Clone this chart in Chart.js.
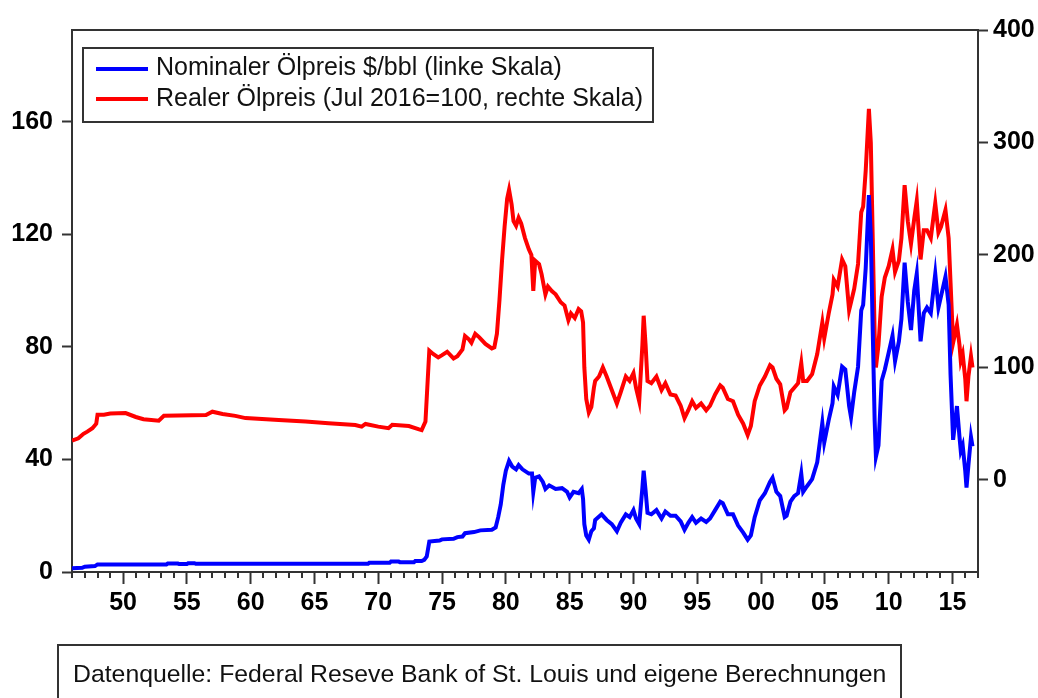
<!DOCTYPE html>
<html>
<head>
<meta charset="utf-8">
<script src="https://cdn.jsdelivr.net/npm/chart.js@4"></script>
<style>
  html, body { margin: 0; padding: 0; background: #fff; }
  #wrap { width: 1038px; height: 698px; }
</style>
</head>
<body>
<div id="wrap"><canvas id="chart"></canvas></div>
<script>
// Nominal oil price, $/bbl (left scale)
const nominalYears = [1946.0,1946.8,1947.0,1947.8,1948.0,1953.4,1953.5,1954.3,1954.4,1955.0,1955.1,1955.6,1955.7,1969.2,1969.3,1970.9,1971.0,1971.6,1971.7,1972.8,1972.9,1973.4,1973.6,1973.8,
  1974.0,1974.8,1975.0,1975.9,1976.2,1976.6,1976.8,1977.5,1978.0,1978.9,1979.2,1979.4,1979.6,1979.8,1980.0,1980.25,1980.5,1980.8,1981.0,1981.3,1981.8,1982.05,1982.15,1982.3,1982.6,1982.9,
  1983.1,1983.4,1983.9,1984.4,1984.8,1985.0,1985.3,1985.7,1985.95,1986.05,1986.15,1986.3,1986.5,1986.7,1986.9,1987.0,1987.5,1987.9,1988.3,1988.7,1989.0,1989.4,1989.7,1990.0,1990.2,1990.45,
  1990.7,1990.8,1990.95,1991.1,1991.4,1991.8,1992.2,1992.5,1992.9,1993.3,1993.7,1994.0,1994.3,1994.6,1994.9,1995.3,1995.7,1996.0,1996.4,1996.8,1997.0,1997.4,1997.8,1998.2,1998.6,1998.95,
  1999.2,1999.5,1999.9,2000.3,2000.7,2000.9,2001.2,2001.5,2001.85,2002.0,2002.3,2002.6,2002.9,2003.15,2003.3,2003.6,2004.0,2004.4,2004.8,2004.95,2005.3,2005.6,2005.7,2006.0,2006.35,2006.6,
  2006.9,2007.05,2007.3,2007.6,2007.85,2008.0,2008.2,2008.45,2008.6,2008.75,2008.9,2009.0,2009.2,2009.45,2009.7,2010.0,2010.3,2010.5,2010.8,2011.0,2011.25,2011.5,2011.75,2012.0,2012.2,2012.5,
  2012.75,2013.0,2013.3,2013.65,2013.9,2014.1,2014.45,2014.7,2014.85,2015.05,2015.35,2015.55,2015.65,2015.8,2016.0,2016.1,2016.25,2016.45,2016.57];
const nominalValues = [1.3,1.5,1.9,2.1,2.7,2.7,3.0,3.0,2.8,2.8,3.1,3.1,2.9,2.9,3.3,3.3,3.7,3.7,3.5,3.5,3.9,3.9,4.3,5.5,
  10.8,11.2,11.6,11.8,12.4,12.6,13.8,14.2,14.8,15.0,15.8,19.5,24,31,36,39.5,37.5,36.5,38,36.5,35,35,28.5,33.5,34,32,
  29.5,30.8,29.5,29.8,28.5,26.5,28.5,28,29.5,26,17,13,11.5,14.5,15.5,18.5,20.5,18.5,17,14.5,17.5,20.5,19.5,22,19,17,
  30,36,29,21,20.5,22,19,21.5,20,20,18,15,17.5,19.5,17.5,19,17.8,19,22,25,24.5,20.5,20.5,16.5,14,11.5,
  13,19.5,25.5,28,32,33.5,28.5,27,19.5,20,25,27,28,35,28.5,30.5,33,39,53,46,54,60,66,63,73,72,
  59,55,64,73,93,95,108,134,120,86,54,41,45,68,72,78,84,75,82,90,110,96,86,100,106,82,
  92,94,92,106,94,98,105,95,70,47,59,48,43,45,36,30,38,48,44.7];

// Real oil price, Jul 2016 = 100 (right scale)
const realYears = [1946.0,1946.5,1946.9,1947.2,1947.6,1947.9,1948.0,1948.5,1949.0,1950.2,1951.0,1951.6,1952.8,1953.2,1956.5,1957.0,1957.8,1958.8,1959.6,1962.2,1964.3,1966.1,1968.2,1968.7,1969.0,1970.0,1970.8,1971.1,1972.4,1973.2,1973.4,1973.7,
  1974.0,1974.3,1974.7,1975.0,1975.4,1975.9,1976.2,1976.6,1976.8,1977.1,1977.3,1977.6,1977.9,1978.4,1978.9,1979.1,1979.3,1979.5,1979.7,1979.9,1980.1,1980.25,1980.45,1980.6,1980.8,1981.0,1981.2,1981.5,1981.8,1982.0,1982.15,1982.3,1982.6,1982.8,
  1983.1,1983.3,1983.6,1983.9,1984.3,1984.6,1984.9,1985.1,1985.4,1985.7,1985.9,1986.05,1986.15,1986.3,1986.5,1986.7,1986.9,1987.0,1987.3,1987.6,1987.9,1988.3,1988.7,1989.0,1989.4,1989.7,1990.0,1990.2,1990.45,1990.7,1990.8,1990.95,
  1991.1,1991.4,1991.8,1992.2,1992.5,1992.9,1993.3,1993.7,1994.0,1994.3,1994.6,1994.9,1995.3,1995.7,1996.0,1996.4,1996.8,1997.0,1997.4,1997.8,1998.2,1998.6,1998.95,1999.2,1999.5,1999.9,2000.3,2000.7,2000.9,2001.2,2001.5,2001.85,
  2002.0,2002.3,2002.6,2002.9,2003.15,2003.3,2003.6,2004.0,2004.4,2004.8,2004.95,2005.3,2005.6,2005.7,2006.0,2006.35,2006.6,2006.9,2007.05,2007.3,2007.6,2007.85,2008.0,2008.2,2008.45,2008.6,2008.75,2008.9,2009.0,2009.2,2009.45,2009.7,
  2010.0,2010.3,2010.5,2010.8,2011.0,2011.25,2011.5,2011.75,2012.0,2012.2,2012.5,2012.75,2013.0,2013.3,2013.65,2013.9,2014.1,2014.45,2014.7,2014.85,2015.05,2015.35,2015.55,2015.65,2015.8,2016.0,2016.1,2016.25,2016.45,2016.57];
const realValues = [35,37,41,43,46,50,58,58,59,59.5,56,54,52.7,57,57.8,60.7,58.7,57,55,53.3,51.9,50.4,48.9,47.4,49.8,47.4,46,49,48,45,44.4,51.9,
  115,112,109,111,114,108,110,116,128,125,122,130,127,121,117,118,130,160,195,225,250,258,245,230,226,233,228,215,205,200,168,195,192,183,
  165,172,168,165,158,155,142,148,144,152,150,140,100,72,60,65,82,88,92,100,92,80,68,78,92,88,95,82,70,120,146,120,
  88,86,92,80,86,76,75,66,55,62,70,64,68,62,66,76,84,82,72,70,58,50,40,48,70,84,92,102,100,90,85,62,
  64,78,82,86,104,88,88,94,112,140,126,148,165,178,172,196,190,151,158,170,192,238,243,275,330,300,215,130,100,120,163,180,
  190,205,185,195,215,262,230,210,232,248,196,222,222,215,246,220,225,240,215,175,122,138,120,106,112,90,70,92,110,100];

const leftTicks = [0, 40, 80, 120, 160];
const rightTicks = [0, 100, 200, 300, 400];
const majorYears = [1950, 1955, 1960, 1965, 1970, 1975, 1980, 1985, 1990, 1995, 2000, 2005, 2010, 2015];
const majorLabels = ["50", "55", "60", "65", "70", "75", "80", "85", "90", "95", "00", "05", "10", "15"];

const axisColor = "#333";
const tickFont = { family: '"Liberation Sans", Arial, sans-serif', size: 25, weight: "bold" };

const toXY = (xs, ys) => xs.map((x, i) => ({ x: x, y: ys[i] }));

// frame, minor year ticks, legend box and source note
const extras = {
  id: "extras",
  afterDraw(chart) {
    const ctx = chart.ctx;
    const a = chart.chartArea;
    const xs = chart.scales.x;
    ctx.save();
    ctx.strokeStyle = axisColor;
    ctx.lineWidth = 2;
    ctx.beginPath();
    ctx.moveTo(a.left, a.top);
    ctx.lineTo(a.right, a.top);
    ctx.stroke();

    for (let yr = Math.ceil(xs.min); yr <= xs.max; yr++) {
      if (yr % 5 === 0) continue;
      const px = Math.round(xs.getPixelForValue(yr));
      ctx.beginPath();
      ctx.moveTo(px, a.bottom);
      ctx.lineTo(px, a.bottom + 6);
      ctx.stroke();
    }

    // legend
    ctx.fillStyle = "#fff";
    ctx.fillRect(83, 48, 570, 74);
    ctx.strokeRect(83, 48, 570, 74);
    ctx.lineWidth = 4;
    ctx.strokeStyle = "#0000ff";
    ctx.beginPath(); ctx.moveTo(96, 69); ctx.lineTo(148, 69); ctx.stroke();
    ctx.strokeStyle = "#ff0000";
    ctx.beginPath(); ctx.moveTo(96, 99); ctx.lineTo(148, 99); ctx.stroke();
    ctx.fillStyle = "#111";
    ctx.font = '25px "Liberation Sans"';
    ctx.textBaseline = "alphabetic";
    ctx.fillText("Nominaler \u00D6lpreis $/bbl (linke Skala)", 156, 75);
    ctx.fillText("Realer \u00D6lpreis (Jul 2016=100, rechte Skala)", 156, 106);

    // source note
    ctx.strokeStyle = axisColor;
    ctx.lineWidth = 2;
    ctx.strokeRect(58, 645, 843, 70);
    ctx.font = '24.8px "Liberation Sans"';
    ctx.fillText("Datenquelle: Federal Reseve Bank of St. Louis und eigene Berechnungen", 73, 682);
    ctx.restore();
  }
};

new Chart(document.getElementById("chart"), {
  type: "line",
  data: {
    datasets: [
      {
        label: "Nominaler \u00D6lpreis $/bbl (linke Skala)",
        data: toXY(nominalYears, nominalValues),
        borderColor: "#0000ff",
        borderWidth: 4,
        pointRadius: 0,
        tension: 0,
        yAxisID: "y",
      },
      {
        label: "Realer \u00D6lpreis (Jul 2016=100, rechte Skala)",
        data: toXY(realYears, realValues),
        borderColor: "#ff0000",
        borderWidth: 4,
        pointRadius: 0,
        tension: 0,
        yAxisID: "y1",
      },
    ],
  },
  options: {
    responsive: true,
    maintainAspectRatio: false,
    animation: false,
    devicePixelRatio: 1,
    layout: { padding: { top: 30, left: 0, right: 0, bottom: 0 } },
    plugins: {
      legend: { display: false },
      tooltip: { enabled: false },
    },
    scales: {
      x: {
        type: "linear",
        min: 1946,
        max: 2017,
        afterBuildTicks: (scale) => { scale.ticks = majorYears.map((v) => ({ value: v })); },
        afterFit: (scale) => { scale.height = 126; },
        border: { display: true, color: axisColor, width: 2 },
        grid: { drawOnChartArea: false, tickLength: 12, tickColor: axisColor, tickWidth: 2 },
        ticks: {
          autoSkip: false,
          maxRotation: 0,
          padding: 4,
          color: "#000",
          font: tickFont,
          callback: (v) => majorLabels[majorYears.indexOf(v)],
        },
      },
      y: {
        position: "left",
        min: 0,
        max: 192.7,
        afterBuildTicks: (scale) => { scale.ticks = leftTicks.map((v) => ({ value: v })); },
        afterFit: (scale) => { scale.width = 72; },
        border: { display: true, color: axisColor, width: 2 },
        grid: { drawOnChartArea: false, tickLength: 10, tickColor: axisColor, tickWidth: 2 },
        ticks: { padding: 9, color: "#000", font: tickFont },
      },
      y1: {
        position: "right",
        min: -81.8,
        max: 400,
        afterBuildTicks: (scale) => { scale.ticks = rightTicks.map((v) => ({ value: v })); },
        afterFit: (scale) => { scale.width = 60; },
        border: { display: true, color: axisColor, width: 2 },
        grid: { drawOnChartArea: false, tickLength: 10, tickColor: axisColor, tickWidth: 2 },
        ticks: { padding: 5, color: "#000", font: tickFont },
      },
    },
  },
  plugins: [extras],
});
</script>
</body>
</html>
